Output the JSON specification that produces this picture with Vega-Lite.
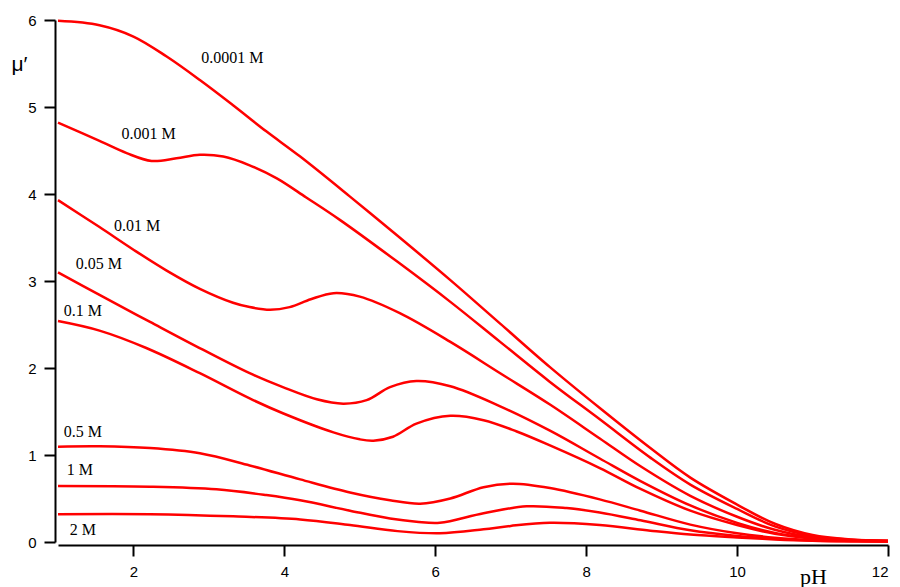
{
  "$schema": "https://vega.github.io/schema/vega-lite/v6.json",
  "width": 830,
  "height": 522,
  "autosize": {"type": "none"},
  "padding": {"left": 58, "top": 20, "right": 12, "bottom": 45},
  "background": "white",
  "config": {
    "view": {"stroke": null},
    "axis": {
      "grid": false,
      "zindex": 1,
      "domainColor": "#000000",
      "domainWidth": 2,
      "tickColor": "#000000",
      "tickWidth": 2,
      "tickSize": 11,
      "labelFont": "Liberation Sans",
      "labelFontSize": 15,
      "labelColor": "black",
      "titleColor": "black",
      "titleFontWeight": "normal"
    }
  },
  "datasets": {
    "curves": [
      {"c": "0.0001 M", "pH": 1, "mu": 5.99},
      {"c": "0.0001 M", "pH": 1.55, "mu": 5.94},
      {"c": "0.0001 M", "pH": 2.0, "mu": 5.81},
      {"c": "0.0001 M", "pH": 2.44, "mu": 5.58},
      {"c": "0.0001 M", "pH": 2.88, "mu": 5.31},
      {"c": "0.0001 M", "pH": 3.32, "mu": 5.02},
      {"c": "0.0001 M", "pH": 3.76, "mu": 4.72},
      {"c": "0.0001 M", "pH": 4.21, "mu": 4.43},
      {"c": "0.0001 M", "pH": 4.87, "mu": 3.97},
      {"c": "0.0001 M", "pH": 5.5, "mu": 3.52},
      {"c": "0.0001 M", "pH": 6.2, "mu": 3.01},
      {"c": "0.0001 M", "pH": 6.86, "mu": 2.51},
      {"c": "0.0001 M", "pH": 7.52, "mu": 2.01},
      {"c": "0.0001 M", "pH": 8.18, "mu": 1.54},
      {"c": "0.0001 M", "pH": 8.85, "mu": 1.08},
      {"c": "0.0001 M", "pH": 9.38, "mu": 0.74},
      {"c": "0.0001 M", "pH": 10, "mu": 0.43},
      {"c": "0.0001 M", "pH": 10.5, "mu": 0.21},
      {"c": "0.0001 M", "pH": 11, "mu": 0.08},
      {"c": "0.0001 M", "pH": 11.5, "mu": 0.03},
      {"c": "0.0001 M", "pH": 12, "mu": 0.015},

      {"c": "0.001 M", "pH": 1, "mu": 4.82},
      {"c": "0.001 M", "pH": 1.55, "mu": 4.61},
      {"c": "0.001 M", "pH": 1.91, "mu": 4.47},
      {"c": "0.001 M", "pH": 2.24, "mu": 4.38},
      {"c": "0.001 M", "pH": 2.57, "mu": 4.41},
      {"c": "0.001 M", "pH": 2.88, "mu": 4.45},
      {"c": "0.001 M", "pH": 3.19, "mu": 4.43},
      {"c": "0.001 M", "pH": 3.54, "mu": 4.33},
      {"c": "0.001 M", "pH": 3.9, "mu": 4.18},
      {"c": "0.001 M", "pH": 4.29, "mu": 3.96},
      {"c": "0.001 M", "pH": 4.74, "mu": 3.7},
      {"c": "0.001 M", "pH": 5.5, "mu": 3.22},
      {"c": "0.001 M", "pH": 6.2, "mu": 2.76},
      {"c": "0.001 M", "pH": 6.86, "mu": 2.3},
      {"c": "0.001 M", "pH": 7.52, "mu": 1.84},
      {"c": "0.001 M", "pH": 8.18, "mu": 1.41},
      {"c": "0.001 M", "pH": 8.85, "mu": 0.97},
      {"c": "0.001 M", "pH": 9.38, "mu": 0.66},
      {"c": "0.001 M", "pH": 10, "mu": 0.38},
      {"c": "0.001 M", "pH": 10.5, "mu": 0.18},
      {"c": "0.001 M", "pH": 11, "mu": 0.07},
      {"c": "0.001 M", "pH": 11.5, "mu": 0.027},
      {"c": "0.001 M", "pH": 12, "mu": 0.014},

      {"c": "0.01 M", "pH": 1, "mu": 3.93},
      {"c": "0.01 M", "pH": 1.55, "mu": 3.62},
      {"c": "0.01 M", "pH": 2.0, "mu": 3.36},
      {"c": "0.01 M", "pH": 2.44, "mu": 3.12},
      {"c": "0.01 M", "pH": 2.88, "mu": 2.91},
      {"c": "0.01 M", "pH": 3.32, "mu": 2.75},
      {"c": "0.01 M", "pH": 3.54, "mu": 2.7},
      {"c": "0.01 M", "pH": 3.81, "mu": 2.67},
      {"c": "0.01 M", "pH": 4.07, "mu": 2.7},
      {"c": "0.01 M", "pH": 4.35, "mu": 2.79},
      {"c": "0.01 M", "pH": 4.65, "mu": 2.86},
      {"c": "0.01 M", "pH": 5.0, "mu": 2.82},
      {"c": "0.01 M", "pH": 5.53, "mu": 2.63},
      {"c": "0.01 M", "pH": 6.2, "mu": 2.3},
      {"c": "0.01 M", "pH": 6.86, "mu": 1.94},
      {"c": "0.01 M", "pH": 7.52, "mu": 1.58},
      {"c": "0.01 M", "pH": 8.18, "mu": 1.19},
      {"c": "0.01 M", "pH": 8.72, "mu": 0.87},
      {"c": "0.01 M", "pH": 9.38, "mu": 0.53},
      {"c": "0.01 M", "pH": 10, "mu": 0.29},
      {"c": "0.01 M", "pH": 10.5, "mu": 0.14},
      {"c": "0.01 M", "pH": 11, "mu": 0.055},
      {"c": "0.01 M", "pH": 11.5, "mu": 0.022},
      {"c": "0.01 M", "pH": 12, "mu": 0.012},

      {"c": "0.05 M", "pH": 1, "mu": 3.1},
      {"c": "0.05 M", "pH": 1.55, "mu": 2.84},
      {"c": "0.05 M", "pH": 2.22, "mu": 2.53},
      {"c": "0.05 M", "pH": 2.92, "mu": 2.21},
      {"c": "0.05 M", "pH": 3.54, "mu": 1.94},
      {"c": "0.05 M", "pH": 3.98, "mu": 1.78},
      {"c": "0.05 M", "pH": 4.43, "mu": 1.64},
      {"c": "0.05 M", "pH": 4.78, "mu": 1.59},
      {"c": "0.05 M", "pH": 5.09, "mu": 1.63},
      {"c": "0.05 M", "pH": 5.4, "mu": 1.78},
      {"c": "0.05 M", "pH": 5.75, "mu": 1.85},
      {"c": "0.05 M", "pH": 6.2, "mu": 1.79},
      {"c": "0.05 M", "pH": 6.86, "mu": 1.56},
      {"c": "0.05 M", "pH": 7.52, "mu": 1.28},
      {"c": "0.05 M", "pH": 8.18, "mu": 0.96},
      {"c": "0.05 M", "pH": 8.72, "mu": 0.7},
      {"c": "0.05 M", "pH": 9.38, "mu": 0.42},
      {"c": "0.05 M", "pH": 10, "mu": 0.22},
      {"c": "0.05 M", "pH": 10.5, "mu": 0.105},
      {"c": "0.05 M", "pH": 11, "mu": 0.045},
      {"c": "0.05 M", "pH": 11.5, "mu": 0.018},
      {"c": "0.05 M", "pH": 12, "mu": 0.01},

      {"c": "0.1 M", "pH": 1, "mu": 2.54},
      {"c": "0.1 M", "pH": 1.55, "mu": 2.43},
      {"c": "0.1 M", "pH": 2.17, "mu": 2.23},
      {"c": "0.1 M", "pH": 2.88, "mu": 1.94},
      {"c": "0.1 M", "pH": 3.54, "mu": 1.65},
      {"c": "0.1 M", "pH": 3.98, "mu": 1.48},
      {"c": "0.1 M", "pH": 4.65, "mu": 1.26},
      {"c": "0.1 M", "pH": 5.0, "mu": 1.18},
      {"c": "0.1 M", "pH": 5.18, "mu": 1.165},
      {"c": "0.1 M", "pH": 5.44, "mu": 1.21},
      {"c": "0.1 M", "pH": 5.75, "mu": 1.36},
      {"c": "0.1 M", "pH": 6.2, "mu": 1.45},
      {"c": "0.1 M", "pH": 6.64, "mu": 1.4},
      {"c": "0.1 M", "pH": 7.08, "mu": 1.27},
      {"c": "0.1 M", "pH": 7.52, "mu": 1.11},
      {"c": "0.1 M", "pH": 8.18, "mu": 0.85},
      {"c": "0.1 M", "pH": 8.72, "mu": 0.61},
      {"c": "0.1 M", "pH": 9.38, "mu": 0.36},
      {"c": "0.1 M", "pH": 10, "mu": 0.195},
      {"c": "0.1 M", "pH": 10.5, "mu": 0.095},
      {"c": "0.1 M", "pH": 11, "mu": 0.04},
      {"c": "0.1 M", "pH": 11.5, "mu": 0.016},
      {"c": "0.1 M", "pH": 12, "mu": 0.01},

      {"c": "0.5 M", "pH": 1, "mu": 1.096},
      {"c": "0.5 M", "pH": 1.55, "mu": 1.1},
      {"c": "0.5 M", "pH": 2.22, "mu": 1.08},
      {"c": "0.5 M", "pH": 2.88, "mu": 1.02},
      {"c": "0.5 M", "pH": 3.54, "mu": 0.88},
      {"c": "0.5 M", "pH": 4.21, "mu": 0.72},
      {"c": "0.5 M", "pH": 4.87, "mu": 0.57},
      {"c": "0.5 M", "pH": 5.4, "mu": 0.48},
      {"c": "0.5 M", "pH": 5.8, "mu": 0.44},
      {"c": "0.5 M", "pH": 6.2, "mu": 0.5},
      {"c": "0.5 M", "pH": 6.64, "mu": 0.63},
      {"c": "0.5 M", "pH": 7.03, "mu": 0.67},
      {"c": "0.5 M", "pH": 7.52, "mu": 0.62},
      {"c": "0.5 M", "pH": 8.18, "mu": 0.49},
      {"c": "0.5 M", "pH": 8.72, "mu": 0.36},
      {"c": "0.5 M", "pH": 9.38, "mu": 0.2},
      {"c": "0.5 M", "pH": 10, "mu": 0.1},
      {"c": "0.5 M", "pH": 10.5, "mu": 0.05},
      {"c": "0.5 M", "pH": 11, "mu": 0.022},
      {"c": "0.5 M", "pH": 11.5, "mu": 0.012},
      {"c": "0.5 M", "pH": 12, "mu": 0.008},

      {"c": "1 M", "pH": 1, "mu": 0.644},
      {"c": "1 M", "pH": 2.22, "mu": 0.636},
      {"c": "1 M", "pH": 3.1, "mu": 0.606},
      {"c": "1 M", "pH": 3.76, "mu": 0.54},
      {"c": "1 M", "pH": 4.21, "mu": 0.48},
      {"c": "1 M", "pH": 4.87, "mu": 0.36},
      {"c": "1 M", "pH": 5.4, "mu": 0.27},
      {"c": "1 M", "pH": 5.75, "mu": 0.233},
      {"c": "1 M", "pH": 6.06, "mu": 0.22},
      {"c": "1 M", "pH": 6.64, "mu": 0.33},
      {"c": "1 M", "pH": 7.21, "mu": 0.41},
      {"c": "1 M", "pH": 7.74, "mu": 0.39},
      {"c": "1 M", "pH": 8.18, "mu": 0.34},
      {"c": "1 M", "pH": 8.72, "mu": 0.25},
      {"c": "1 M", "pH": 9.38, "mu": 0.135},
      {"c": "1 M", "pH": 10, "mu": 0.07},
      {"c": "1 M", "pH": 10.5, "mu": 0.038},
      {"c": "1 M", "pH": 11, "mu": 0.018},
      {"c": "1 M", "pH": 11.5, "mu": 0.01},
      {"c": "1 M", "pH": 12, "mu": 0.008},

      {"c": "2 M", "pH": 1, "mu": 0.32},
      {"c": "2 M", "pH": 2.22, "mu": 0.32},
      {"c": "2 M", "pH": 3.32, "mu": 0.295},
      {"c": "2 M", "pH": 4.21, "mu": 0.26},
      {"c": "2 M", "pH": 4.87, "mu": 0.195},
      {"c": "2 M", "pH": 5.5, "mu": 0.125},
      {"c": "2 M", "pH": 6.06, "mu": 0.1},
      {"c": "2 M", "pH": 6.64, "mu": 0.146},
      {"c": "2 M", "pH": 7.0, "mu": 0.185},
      {"c": "2 M", "pH": 7.52, "mu": 0.22},
      {"c": "2 M", "pH": 8.18, "mu": 0.195},
      {"c": "2 M", "pH": 8.85, "mu": 0.13},
      {"c": "2 M", "pH": 9.38, "mu": 0.085},
      {"c": "2 M", "pH": 10, "mu": 0.052},
      {"c": "2 M", "pH": 10.5, "mu": 0.03},
      {"c": "2 M", "pH": 11, "mu": 0.015},
      {"c": "2 M", "pH": 11.5, "mu": 0.009},
      {"c": "2 M", "pH": 12, "mu": 0.007}
    ],
    "labels": [
      {"label": "0.0001 M", "pH": 3.31, "mu": 5.56},
      {"label": "0.001 M", "pH": 2.2, "mu": 4.69},
      {"label": "0.01 M", "pH": 2.05, "mu": 3.63},
      {"label": "0.05 M", "pH": 1.54, "mu": 3.2},
      {"label": "0.1 M", "pH": 1.33, "mu": 2.66},
      {"label": "0.5 M", "pH": 1.33, "mu": 1.27},
      {"label": "1 M", "pH": 1.29, "mu": 0.83},
      {"label": "2 M", "pH": 1.33, "mu": 0.14}
    ]
  },
  "layer": [
    {
      "data": {"name": "curves"},
      "mark": {"type": "line", "color": "#ff0000", "strokeWidth": 2.5, "interpolate": "catmull-rom", "clip": false},
      "encoding": {
        "x": {
          "field": "pH", "type": "quantitative",
          "scale": {"domain": [1, 12], "nice": false, "zero": false},
          "axis": {
            "values": [2, 4, 6, 8, 10, 12],
            "format": "d",
            "offset": 3,
            "title": "pH",
            "titleFont": "Liberation Serif",
            "titleFontSize": 22,
            "titleX": 755,
            "titleY": 38,
            "titleAlign": "center",
            "titleBaseline": "alphabetic",
            "labelPadding": 8
          }
        },
        "y": {
          "field": "mu", "type": "quantitative",
          "scale": {"domain": [0, 6], "nice": false, "zero": true},
          "axis": {
            "values": [0, 1, 2, 3, 4, 5, 6],
            "format": "d",
            "offset": 3,
            "title": "μ′",
            "titleFont": "Liberation Sans",
            "titleFontSize": 21,
            "titleAngle": 0,
            "titleX": -36,
            "titleY": 50,
            "titleAlign": "center",
            "titleBaseline": "alphabetic",
            "labelPadding": 8
          }
        },
        "detail": {"field": "c"}
      }
    },
    {
      "data": {"name": "labels"},
      "mark": {"type": "text", "font": "Liberation Serif", "fontSize": 16, "color": "#000000", "align": "center", "baseline": "middle"},
      "encoding": {
        "x": {"field": "pH", "type": "quantitative"},
        "y": {"field": "mu", "type": "quantitative"},
        "text": {"field": "label"}
      }
    }
  ]
}
